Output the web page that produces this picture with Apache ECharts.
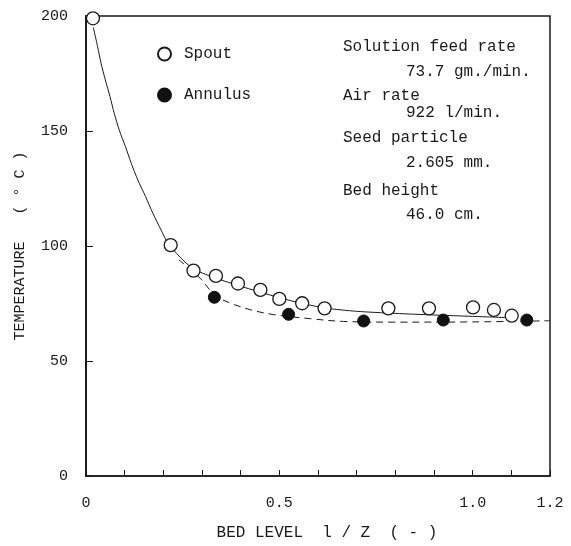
<!DOCTYPE html>
<html>
<head>
<meta charset="utf-8">
<script src="https://cdn.jsdelivr.net/npm/echarts@6/dist/echarts.min.js"></script>
<style>
  html, body { margin: 0; padding: 0; background: #ffffff; }
  #chart { width: 571px; height: 546px; }
</style>
</head>
<body>
<div id="chart"></div>
<script>
// Measured temperatures along the bed (x = l / Z, y = temperature in deg C)
const spoutPoints = [
  [0.018, 199], [0.219, 100.4], [0.278, 89.3], [0.336, 87], [0.393, 83.7],
  [0.451, 80.9], [0.500, 77], [0.559, 75.1], [0.617, 72.9], [0.782, 72.9],
  [0.887, 72.9], [1.001, 73.3], [1.055, 72.2], [1.101, 69.7]
];
const annulusPoints = [
  [0.332, 77.7], [0.524, 70.3], [0.718, 67.4], [0.924, 67.8], [1.140, 67.8]
];

// Hand-drawn trend curves through each set
const spoutCurve = [
  [0.019, 195], [0.030, 186.7], [0.039, 179.4], [0.050, 172.2], [0.062, 165],
  [0.073, 157.7], [0.086, 150.4], [0.102, 143.2], [0.117, 136], [0.134, 128.7],
  [0.154, 121.5], [0.173, 114.2], [0.194, 107], [0.207, 102.6], [0.220, 99.5],
  [0.250, 94], [0.280, 89.8], [0.340, 85.8], [0.390, 83], [0.450, 80],
  [0.500, 77.5], [0.560, 75], [0.620, 73], [0.700, 71.6], [0.800, 70.7],
  [0.900, 70], [1.000, 69.4], [1.100, 68.8]
];
const annulusCurve = [
  [0.240, 94], [0.295, 86], [0.334, 78.5], [0.373, 75.2], [0.425, 72.3],
  [0.484, 70.2], [0.580, 68.4], [0.666, 67.2], [0.800, 66.9], [1.000, 67],
  [1.200, 67.5]
];

// Labelled ticks on the horizontal axis
const xLabelTicks = ['0', '0.5', '1.0', '1.2'];

// Operating conditions printed in the plot area
const conditionLines = [
  ['Solution feed rate', 343, 48],
  ['73.7 gm./min.', 406, 73],
  ['Air rate', 343, 97],
  ['922 l/min.', 406, 114],
  ['Seed particle', 343, 139],
  ['2.605 mm.', 406, 164],
  ['Bed height', 343, 192],
  ['46.0 cm.', 406, 216]
];

const FONT = '"Liberation Mono", "DejaVu Sans Mono", monospace';
const INK = '#1a1a1a';

const chart = echarts.init(document.getElementById('chart'), null, { renderer: 'canvas' });

function fmtX(v) {
  const t = Math.round(v * 10);
  const s = t === 0 ? '0' : (t / 10).toFixed(1);
  return xLabelTicks.indexOf(s) >= 0 ? s : '';
}

chart.setOption({
  backgroundColor: '#ffffff',
  animation: false,
  grid: {
    left: 86, right: 21, top: 16, bottom: 67,
    show: true, borderColor: INK, borderWidth: 1.5, backgroundColor: 'transparent'
  },
  legend: {
    data: ['Spout', 'Annulus'],
    orient: 'vertical',
    left: 152, top: 41,
    itemGap: 25,
    itemWidth: 13, itemHeight: 13,
    textStyle: { fontFamily: FONT, fontSize: 16, color: INK, padding: [0, 0, 0, 8] }
  },
  xAxis: {
    type: 'value', min: 0, max: 1.2, interval: 0.1,
    name: 'BED LEVEL  l / Z  ( - )',
    nameLocation: 'middle', nameGap: 49,
    nameTextStyle: { fontFamily: FONT, fontSize: 16, color: INK, padding: [0, 0, 0, 18] },
    axisLine: { show: true, onZero: false, lineStyle: { color: INK, width: 1.5 } },
    axisTick: { show: true, inside: true, length: 6, lineStyle: { color: INK, width: 1 } },
    axisLabel: {
      show: true, margin: 20, fontFamily: FONT, fontSize: 15, color: INK,
      formatter: fmtX, showMinLabel: true, showMaxLabel: true
    },
    splitLine: { show: false }
  },
  yAxis: {
    type: 'value', min: 0, max: 200, interval: 50,
    name: 'TEMPERATURE   ( ° C )',
    nameLocation: 'middle', nameGap: 58, nameRotate: 90,
    nameTextStyle: { fontFamily: FONT, fontSize: 15, color: INK },
    axisLine: { show: true, onZero: false, lineStyle: { color: INK, width: 2 } },
    axisTick: { show: true, inside: true, length: 7, lineStyle: { color: INK, width: 1 } },
    axisLabel: {
      show: true, margin: 18, fontFamily: FONT, fontSize: 15, color: INK,
      formatter: function (v) { return String(v); }
    },
    splitLine: { show: false }
  },
  graphic: conditionLines.map(function (c) {
    return {
      type: 'text', left: c[1], top: c[2] - 9, z: 10,
      style: { text: c[0], font: '16px ' + FONT, fill: INK }
    };
  }),
  series: [
    {
      name: 'Spout trend', type: 'line', data: spoutCurve,
      smooth: 0.25, showSymbol: false, symbol: 'none',
      lineStyle: { color: INK, width: 1 }, z: 2, silent: true
    },
    {
      name: 'Annulus trend', type: 'line', data: annulusCurve,
      smooth: 0.35, showSymbol: false, symbol: 'none',
      lineStyle: { color: INK, width: 1, type: [7, 5] }, z: 2, silent: true
    },
    {
      name: 'Spout', type: 'scatter', data: spoutPoints,
      symbol: 'circle', symbolSize: 13,
      itemStyle: { color: '#ffffff', borderColor: INK, borderWidth: 1.3, opacity: 1 },
      z: 5
    },
    {
      name: 'Annulus', type: 'scatter', data: annulusPoints,
      symbol: 'circle', symbolSize: 12,
      itemStyle: { color: '#111111', borderColor: '#111111', borderWidth: 1, opacity: 1 },
      z: 6
    }
  ]
});
</script>
</body>
</html>
